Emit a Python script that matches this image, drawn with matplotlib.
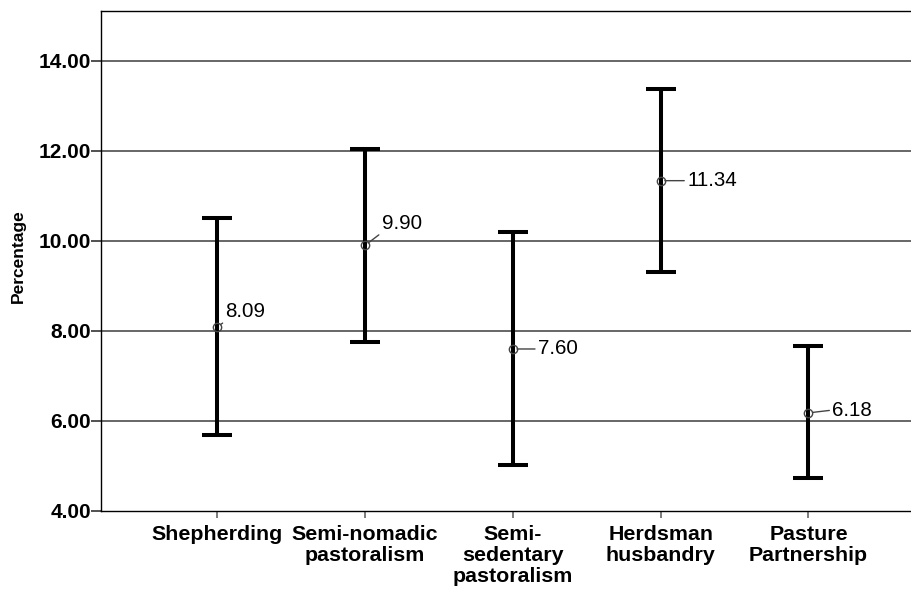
import matplotlib
matplotlib.use("Agg")
import matplotlib.pyplot as plt
import numpy as np

plt.rcParams["font.family"] = ["Liberation Sans", "DejaVu Sans"]

# data
categories = ["Shepherding", "Semi-nomadic\npastoralism", "Semi-\nsedentary\npastoralism",
              "Herdsman\nhusbandry", "Pasture\nPartnership"]
means = [8.09, 9.90, 7.60, 11.34, 6.18]
upper = [10.50, 12.05, 10.19, 13.38, 7.66]
lower = [5.69, 7.75, 5.02, 9.32, 4.73]
yticks = [4, 6, 8, 10, 12, 14]

# label offsets (points) and leader anchor
label_offsets = [(6, 11), (12, 16), (18, 0), (19, 0), (17, 2)]
label_relpos = [(0, 0), (0, 0), (0, 0.5), (0, 0.5), (0, 0.5)]

fig = plt.figure(figsize=(9.12, 5.92), dpi=100)
ax = fig.add_axes([101 / 912, 81 / 592, 1 - 101 / 912, 500 / 592])

x = np.arange(len(categories))
m = np.array(means)
yerr = [m - np.array(lower), np.array(upper) - m]

for yv in yticks[1:]:
    ax.axhline(yv, color="#5a5a5a", lw=1.3, zorder=1)

ax.errorbar(x, m, yerr=yerr, fmt="none", ecolor="black", elinewidth=2.9,
            capsize=11, capthick=2.9, zorder=3)
ax.plot(x, m, "o", ms=6, mfc="none", mec="#444444", mew=1.0, zorder=4)

for xi, mv, off, rp in zip(x, means, label_offsets, label_relpos):
    ax.annotate(f"{mv:.2f}", xy=(xi, mv), xytext=off, textcoords="offset points",
                ha="left", va="center", fontsize=14.8, color="black",
                arrowprops=dict(arrowstyle="-", color="#444444", lw=1.0,
                                shrinkA=0, shrinkB=3, relpos=rp))

ax.set_xlim(-0.785, 4.70)
ax.set_ylim(4, 15.11)
ax.set_yticks(yticks)
ax.set_yticklabels([f"{v:.2f}" for v in yticks], fontsize=15, fontweight="bold")
ax.set_xticks(x)
ax.set_xticklabels(categories, fontsize=15.4, fontweight="bold", linespacing=1.15)
ax.tick_params(axis="y", length=7, width=1.2, color="#333333", pad=0)
ax.tick_params(axis="x", length=5, width=1.2, color="#666666", pad=5)

for side in ["left", "top", "bottom"]:
    ax.spines[side].set_color("black")
    ax.spines[side].set_linewidth(1.0)
ax.spines["right"].set_visible(False)

ax.set_ylabel("Percentage", fontsize=12.5, fontweight="bold")
ax.yaxis.set_label_coords(-0.0925, 0.51)

fig.savefig("out.png", dpi=100)
